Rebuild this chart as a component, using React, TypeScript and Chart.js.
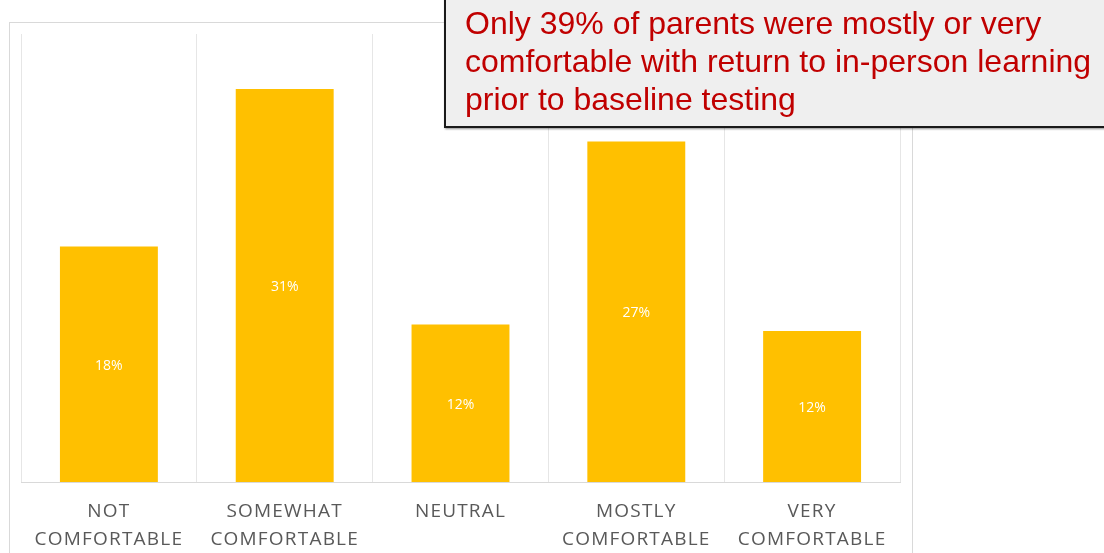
import React, { useEffect, useRef } from "react";
import { Chart, registerables } from "chart.js";

Chart.register(...registerables);

const categories: string[][] = [
  ["NOT", "COMFORTABLE"],
  ["SOMEWHAT", "COMFORTABLE"],
  ["NEUTRAL"],
  ["MOSTLY", "COMFORTABLE"],
  ["VERY", "COMFORTABLE"],
];
const values: number[] = [18.4, 30.7, 12.3, 26.6, 11.8];
const valueLabels: string[] = ["18%", "31%", "12%", "27%", "12%"];
const calloutLines: string[] = [
  "Only 39% of parents were mostly or very",
  "comfortable with return to in-person learning",
  "prior to baseline testing",
];

const barLabelPlugin = {
  id: "barLabels",
  beforeDraw(chart: any) {
    (chart.ctx as any).letterSpacing = "1.2px";
  },
  afterDatasetsDraw(chart: any) {
    const ctx = chart.ctx;
    const meta = chart.getDatasetMeta(0);
    ctx.save();
    (ctx as any).letterSpacing = "0px";
    ctx.fillStyle = "#ffffff";
    ctx.font = "14px 'Open Sans'";
    ctx.textAlign = "center";
    ctx.textBaseline = "middle";
    meta.data.forEach((el: any, i: number) => {
      const y = (el.y + el.base) / 2 + 1.5;
      ctx.fillText(valueLabels[i], el.x, y);
    });
    ctx.restore();
  },
};

export default function App() {
  const canvasRef = useRef<HTMLCanvasElement | null>(null);

  useEffect(() => {
    if (!canvasRef.current) return;
    const chart = new Chart(canvasRef.current, {
      type: "bar",
      data: {
        labels: categories,
        datasets: [
          {
            data: values,
            backgroundColor: "#FFC000",
            borderWidth: 0,
            barPercentage: 0.557,
            categoryPercentage: 1,
          },
        ],
      },
      options: {
        animation: false,
        responsive: false,
        maintainAspectRatio: false,
        devicePixelRatio: 1,
        layout: { padding: { left: 21, right: 204, top: 34, bottom: 0 } },
        plugins: { legend: { display: false }, tooltip: { enabled: false } },
        scales: {
          x: {
            grid: {
              display: true,
              offset: true,
              color: "#e6e6e6",
              lineWidth: 1,
              drawTicks: false,
            },
            border: { display: true, color: "#d9d9d9" },
            ticks: {
              color: "#595959",
              font: { family: "'Open Sans'", size: 19, lineHeight: 1.47 },
              padding: 16,
              autoSkip: false,
              maxRotation: 0,
            },
            afterFit: (s: any) => {
              s.height = 71;
            },
          },
          y: { display: false, min: 0, max: 35 },
        },
      },
      plugins: [barLabelPlugin],
    });
    return () => chart.destroy();
  }, []);

  return (
    <div
      style={{
        position: "fixed",
        left: 0,
        top: 0,
        width: 1104,
        height: 553,
        overflow: "hidden",
        background: "#ffffff",
      }}
    >
      <div
        style={{
          position: "absolute",
          left: 9,
          top: 22,
          width: 902,
          height: 620,
          border: "1px solid #d9d9d9",
        }}
      />
      <canvas
        ref={canvasRef}
        width={1104}
        height={553}
        style={{ position: "absolute", left: 0, top: 0, width: 1104, height: 553 }}
      />
      <div
        style={{
          position: "absolute",
          left: 444,
          top: -20,
          width: 700,
          boxSizing: "border-box",
          border: "2px solid #1a1a1a",
          background: "#efefef",
          boxShadow: "1px 1px 2px rgba(0,0,0,0.45)",
          padding: "22px 0 8px 19px",
          fontFamily: "'Liberation Sans', Arial, sans-serif",
          fontSize: 32,
          lineHeight: "38px",
          color: "#C00000",
          whiteSpace: "nowrap",
        }}
      >
        {calloutLines.map((l, i) => (
          <div key={i}>{l}</div>
        ))}
      </div>
    </div>
  );
}
